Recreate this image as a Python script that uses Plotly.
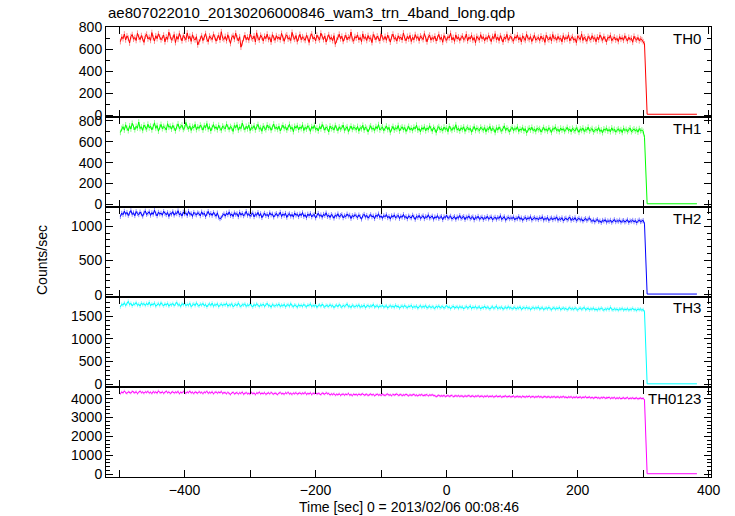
import numpy as np
import plotly.graph_objects as go

# ---------------- data ----------------
title_text = "ae807022010_20130206000846_wam3_trn_4band_long.qdp"
panel_names = ["TH0", "TH1", "TH2", "TH3", "TH0123"]
line_colors = ["#ff0000", "#00ff00", "#0000ff", "#00ffff", "#ff00ff"]
error_colors = ["rgba(255,0,0,0.45)", "rgba(0,255,0,0.45)", "rgba(0,0,255,0.45)",
                "rgba(0,255,255,0.45)", "rgba(255,0,255,0.45)"]

# active part: 2-s bins starting at -498 s; afterwards the detector is off
bin_start = -498
bin_width = 2
tail_time = [306, 382]

# typical 1-sigma error of one bin (counts/sec) for each band
band_errors = [26, 27, 34, 41, 65]

th0 = [672, 715, 698, 741, 687, 724, 703, 659, 718, 736, 694, 709, 682, 748, 713, 690, 727, 701, 665, 722,
       739, 696, 711, 683, 754, 708, 677, 725, 699, 743, 716, 688, 706, 731, 670, 714, 692, 758, 721, 685,
       702, 737, 663, 719, 693, 746, 710, 679, 728, 705, 689, 751, 697, 720, 674, 734, 700, 687, 717, 642,
       668, 699, 726, 681, 712, 745, 694, 671, 723, 707, 690, 738, 715, 676, 704, 729, 686, 762, 703, 692,
       719, 680, 734, 698, 655, 711, 727, 693, 749, 706, 678, 716, 621, 660, 701, 732, 689, 713, 684, 741,
       708, 695, 724, 669, 752, 703, 686, 730, 712, 677, 721, 699, 740, 691, 710, 667, 735, 705, 684, 726,
       697, 714, 688, 747, 702, 675, 719, 733, 694, 708, 681, 756, 711, 693, 727, 672, 704, 738, 689, 716,
       700, 683, 729, 706, 664, 720, 743, 696, 713, 678, 731, 702, 687, 749, 715, 690, 724, 668, 707, 735,
       693, 711, 680, 726, 648, 685, 712, 739, 697, 721, 674, 705, 730, 688, 714, 701, 759, 692, 676, 718,
       704, 733, 687, 710, 671, 742, 699, 716, 682, 728, 695, 707, 663, 737, 712, 689, 723, 700, 678, 744,
       706, 691, 719, 684, 732, 702, 667, 715, 740, 694, 709, 676, 725, 698, 713, 686, 751, 703, 680, 720,
       695, 729, 673, 711, 688, 736, 701, 717, 679, 724, 707, 690, 745, 698, 670, 714, 731, 685, 709, 693,
       722, 677, 704, 738, 692, 712, 666, 727, 699, 683, 718, 705, 748, 687, 710, 674, 733, 696, 715, 681,
       707, 724, 689, 700, 741, 678, 713, 695, 730, 684, 709, 661, 720, 702, 686, 735, 697, 716, 679, 711,
       693, 728, 705, 672, 719, 699, 744, 688, 712, 680, 726, 701, 667, 714, 695, 738, 684, 706, 721, 690,
       676, 717, 702, 733, 687, 710, 669, 725, 696, 683, 740, 704, 691, 718, 673, 707, 729, 685, 699, 712,
       681, 723, 694, 708, 665, 731, 700, 688, 716, 677, 737, 698, 710, 684, 720, 692, 705, 670, 727, 689,
       711, 696, 734, 679, 703, 718, 685, 699, 662, 724, 707, 690, 742, 682, 713, 697, 675, 720, 701, 687,
       726, 694, 709, 671, 715, 688, 733, 700, 683, 719, 696, 668, 711, 704, 729, 680, 698, 714, 686, 702,
       673, 717, 693, 708, 684, 725, 699, 677, 712, 690, 703, 666, 721, 695, 686, 710, 679, 698, 689, 671,
       650]
th0_tail = [10, 10]

th1 = [690, 728, 745, 712, 763, 731, 706, 754, 722, 778, 740, 715, 749, 731, 790, 727, 744, 709, 761, 737,
       720, 769, 733, 751, 714, 745, 782, 729, 756, 702, 741, 767, 725, 748, 736, 713, 774, 739, 750, 721,
       758, 731, 705, 746, 772, 726, 743, 760, 718, 735, 786, 740, 722, 753, 709, 747, 733, 768, 716, 744,
       728, 761, 739, 712, 756, 734, 775, 720, 748, 703, 738, 765, 727, 744, 715, 759, 730, 710, 752, 737,
       723, 770, 741, 718, 747, 732, 699, 757, 735, 764, 711, 743, 726, 780, 738, 716, 749, 724, 762, 707,
       740, 729, 755, 713, 744, 767, 721, 736, 701, 753, 731, 716, 762, 734, 747, 710, 739, 771, 725, 742,
       719, 750, 704, 737, 760, 728, 745, 712, 733, 768, 722, 740, 697, 749, 731, 756, 714, 742, 726, 763,
       708, 739, 721, 754, 735, 700, 746, 727, 758, 716, 732, 704, 747, 723, 766, 737, 711, 743, 729, 694,
       752, 725, 738, 712, 757, 731, 706, 744, 720, 735, 761, 709, 730, 745, 698, 727, 751, 718, 740, 733,
       715, 748, 702, 736, 724, 759, 711, 742, 728, 695, 737, 754, 719, 733, 708, 746, 725, 765, 713, 731,
       743, 706, 729, 752, 717, 739, 690, 726, 748, 712, 735, 721, 757, 703, 730, 744, 716, 738, 699, 727,
       749, 714, 732, 708, 741, 723, 760, 711, 728, 695, 736, 719, 745, 705, 733, 716, 754, 726, 701, 739,
       722, 688, 731, 746, 713, 727, 706, 742, 718, 734, 697, 750, 725, 709, 738, 720, 764, 712, 729, 703,
       735, 717, 744, 700, 726, 739, 714, 731, 692, 721, 747, 708, 733, 719, 705, 741, 724, 710, 737, 696,
       728, 715, 748, 706, 730, 722, 689, 736, 712, 743, 718, 701, 727, 753, 709, 732, 716, 694, 724, 740,
       707, 729, 718, 745, 699, 723, 711, 737, 704, 726, 684, 719, 733, 712, 740, 706, 722, 698, 731, 715,
       727, 693, 716, 738, 709, 724, 701, 735, 714, 690, 729, 719, 743, 705, 721, 697, 732, 711, 726, 700,
       718, 739, 706, 723, 695, 730, 713, 702, 736, 717, 691, 725, 709, 733, 698, 720, 712, 741, 703, 716,
       728, 694, 711, 722, 705, 737, 699, 715, 687, 724, 710, 731, 702, 719, 696, 734, 708, 721, 693, 713,
       725, 701, 717, 689, 730, 707, 720, 698, 714, 733, 696, 711, 724, 703, 718, 692, 727, 705, 713, 699,
       640]
th1_tail = [5, 5]

th2 = [1140, 1192, 1168, 1221, 1175, 1203, 1156, 1188, 1230, 1171, 1197, 1152, 1215, 1183, 1166, 1209, 1178, 1145, 1196, 1224,
       1169, 1187, 1212, 1158, 1199, 1173, 1235, 1182, 1150, 1206, 1177, 1193, 1161, 1218, 1185, 1167, 1201, 1142, 1190, 1174,
       1214, 1160, 1196, 1181, 1227, 1165, 1189, 1148, 1208, 1179, 1195, 1155, 1220, 1172, 1186, 1143, 1204, 1176, 1163, 1198,
       1184, 1151, 1211, 1170, 1192, 1139, 1183, 1217, 1164, 1188, 1157, 1202, 1175, 1146, 1196, 1130, 1108, 1125, 1160, 1181,
       1147, 1193, 1166, 1210, 1154, 1179, 1141, 1198, 1171, 1185, 1137, 1206, 1162, 1190, 1150, 1174, 1218, 1158, 1183, 1145,
       1170, 1195, 1136, 1177, 1161, 1203, 1148, 1186, 1124, 1168, 1192, 1153, 1175, 1140, 1199, 1163, 1180, 1132, 1171, 1188,
       1149, 1166, 1205, 1142, 1178, 1157, 1190, 1128, 1169, 1184, 1145, 1173, 1133, 1194, 1160, 1176, 1138, 1181, 1155, 1200,
       1141, 1167, 1123, 1179, 1152, 1187, 1135, 1163, 1171, 1119, 1158, 1190, 1146, 1168, 1130, 1176, 1154, 1197, 1139, 1162,
       1127, 1173, 1150, 1116, 1165, 1143, 1183, 1134, 1159, 1172, 1121, 1155, 1138, 1180, 1147, 1164, 1112, 1158, 1136, 1170,
       1149, 1125, 1167, 1141, 1102, 1153, 1176, 1131, 1160, 1118, 1145, 1171, 1135, 1152, 1109, 1163, 1140, 1182, 1128, 1150,
       1115, 1157, 1137, 1170, 1122, 1146, 1104, 1155, 1133, 1166, 1120, 1141, 1161, 1111, 1148, 1130, 1173, 1124, 1143, 1106,
       1152, 1134, 1119, 1164, 1139, 1098, 1147, 1127, 1159, 1113, 1136, 1154, 1108, 1142, 1125, 1168, 1117, 1132, 1150, 1101,
       1138, 1121, 1156, 1110, 1133, 1145, 1094, 1140, 1124, 1162, 1114, 1131, 1149, 1105, 1127, 1143, 1099, 1137, 1118, 1158,
       1112, 1129, 1144, 1096, 1135, 1120, 1151, 1107, 1126, 1139, 1090, 1132, 1116, 1147, 1102, 1123, 1136, 1097, 1128, 1111,
       1146, 1104, 1125, 1138, 1093, 1119, 1134, 1100, 1130, 1113, 1155, 1098, 1121, 1141, 1087, 1117, 1133, 1106, 1126, 1110,
       1137, 1092, 1120, 1108, 1143, 1101, 1124, 1085, 1115, 1131, 1096, 1122, 1109, 1140, 1089, 1114, 1128, 1103, 1118, 1094,
       1127, 1107, 1139, 1088, 1116, 1099, 1130, 1082, 1111, 1124, 1093, 1119, 1105, 1136, 1086, 1112, 1097, 1125, 1078, 1109,
       1121, 1090, 1106, 1133, 1084, 1113, 1095, 1126, 1080, 1102, 1118, 1089, 1108, 1074, 1099, 1115, 1083, 1104, 1120, 1087,
       1070, 1094, 1061, 1085, 1101, 1066, 1079, 1052, 1088, 1072, 1096, 1058, 1081, 1067, 1090, 1055, 1076, 1098, 1063, 1083,
       1069, 1092, 1057, 1078, 1086, 1060, 1075, 1095, 1053, 1080, 1071, 1089, 1062, 1084, 1048, 1077, 1093, 1065, 1074, 1087,
       1030]
th2_tail = [8, 8]

th3 = [1700, 1762, 1741, 1795, 1730, 1768, 1825, 1749, 1783, 1722, 1770, 1756, 1801, 1737, 1764, 1719, 1789, 1752, 1775, 1733,
       1781, 1745, 1810, 1726, 1766, 1748, 1792, 1713, 1759, 1777, 1731, 1797, 1754, 1722, 1771, 1740, 1786, 1716, 1760, 1743,
       1779, 1728, 1763, 1805, 1738, 1756, 1711, 1774, 1747, 1790, 1725, 1761, 1735, 1784, 1707, 1753, 1770, 1729, 1794, 1744,
       1718, 1766, 1739, 1781, 1724, 1758, 1700, 1749, 1772, 1731, 1787, 1714, 1756, 1737, 1776, 1705, 1745, 1768, 1727, 1760,
       1742, 1783, 1716, 1751, 1734, 1774, 1703, 1747, 1762, 1725, 1790, 1733, 1709, 1755, 1741, 1771, 1712, 1748, 1729, 1767,
       1736, 1698, 1757, 1721, 1773, 1740, 1706, 1752, 1730, 1765, 1711, 1745, 1784, 1723, 1739, 1694, 1758, 1734, 1717, 1750,
       1727, 1769, 1708, 1743, 1722, 1761, 1699, 1738, 1755, 1714, 1778, 1726, 1704, 1747, 1732, 1691, 1753, 1719, 1741, 1710,
       1760, 1724, 1701, 1744, 1731, 1770, 1707, 1737, 1716, 1752, 1689, 1733, 1749, 1712, 1764, 1720, 1697, 1740, 1728, 1708,
       1754, 1715, 1736, 1684, 1726, 1744, 1703, 1758, 1721, 1693, 1739, 1711, 1730, 1772, 1705, 1724, 1686, 1743, 1718, 1700,
       1735, 1710, 1751, 1690, 1723, 1706, 1746, 1681, 1719, 1738, 1698, 1727, 1714, 1760, 1695, 1717, 1732, 1687, 1725, 1709,
       1741, 1692, 1716, 1730, 1678, 1712, 1733, 1699, 1722, 1688, 1745, 1704, 1720, 1674, 1711, 1728, 1693, 1737, 1701, 1685,
       1719, 1707, 1740, 1679, 1713, 1696, 1725, 1670, 1708, 1731, 1689, 1715, 1697, 1734, 1676, 1703, 1721, 1683, 1710, 1694,
       1666, 1718, 1690, 1727, 1680, 1702, 1714, 1672, 1698, 1736, 1684, 1706, 1661, 1700, 1722, 1677, 1695, 1709, 1668, 1712,
       1688, 1704, 1658, 1697, 1716, 1675, 1691, 1726, 1663, 1701, 1682, 1713, 1669, 1693, 1705, 1655, 1696, 1679, 1719, 1671,
       1699, 1685, 1652, 1694, 1708, 1667, 1687, 1722, 1660, 1689, 1676, 1702, 1649, 1683, 1698, 1664, 1711, 1673, 1690, 1657,
       1681, 1695, 1653, 1686, 1670, 1706, 1647, 1678, 1692, 1661, 1700, 1665, 1684, 1644, 1677, 1693, 1659, 1688, 1671, 1703,
       1650, 1675, 1689, 1643, 1668, 1682, 1656, 1697, 1662, 1639, 1674, 1685, 1648, 1679, 1660, 1694, 1641, 1666, 1680, 1654,
       1672, 1636, 1663, 1687, 1651, 1669, 1645, 1683, 1658, 1632, 1667, 1678, 1646, 1661, 1692, 1640, 1657, 1673, 1634, 1664,
       1649, 1676, 1638, 1655, 1629, 1668, 1644, 1681, 1652, 1627, 1660, 1642, 1671, 1637, 1699, 1647, 1633, 1662, 1641, 1656,
       1625, 1659, 1645, 1670, 1631, 1653, 1639, 1665, 1628, 1650, 1643, 1674, 1635, 1648, 1622, 1658, 1640, 1654, 1630, 1646,
       1590]
th3_tail = [10, 10]

th0123 = [4250, 4352, 4298, 4405, 4317, 4274, 4361, 4330, 4289, 4388, 4342, 4305, 4370, 4262, 4334, 4396, 4311, 4347, 4280, 4359,
          4323, 4384, 4294, 4341, 4268, 4372, 4315, 4349, 4287, 4410, 4326, 4301, 4363, 4277, 4338, 4392, 4309, 4355, 4271, 4331,
          4366, 4292, 4344, 4318, 4381, 4259, 4336, 4303, 4376, 4328, 4284, 4350, 4312, 4399, 4296, 4340, 4266, 4357, 4321, 4285,
          4373, 4306, 4335, 4263, 4348, 4319, 4387, 4281, 4332, 4297, 4364, 4253, 4325, 4356, 4291, 4343, 4310, 4378, 4273, 4316,
          4309, 4260, 4330, 4272, 4216, 4297, 4338, 4252, 4284, 4321, 4240, 4307, 4269, 4353, 4230, 4290, 4315, 4258, 4277, 4235,
          4323, 4265, 4294, 4211, 4303, 4278, 4345, 4246, 4288, 4263, 4316, 4226, 4283, 4308, 4249, 4332, 4270, 4239, 4299, 4256,
          4214, 4292, 4324, 4253, 4274, 4231, 4312, 4267, 4337, 4245, 4281, 4220, 4296, 4259, 4317, 4237, 4276, 4305, 4242, 4290,
          4262, 4328, 4225, 4271, 4248, 4309, 4208, 4285, 4264, 4322, 4238, 4279, 4254, 4206, 4298, 4267, 4233, 4314, 4257, 4275,
          4188, 4249, 4211, 4266, 4177, 4228, 4203, 4257, 4170, 4220, 4242, 4187, 4233, 4208, 4279, 4182, 4215, 4161, 4237, 4201,
          4224, 4175, 4246, 4196, 4218, 4257, 4179, 4210, 4231, 4165, 4205, 4242, 4189, 4221, 4157, 4213, 4235, 4184, 4206, 4173,
          4229, 4192, 4168, 4216, 4239, 4181, 4203, 4154, 4225, 4187, 4209, 4248, 4169, 4195, 4220, 4160, 4200, 4178, 4232, 4186,
          4151, 4207, 4174, 4193, 4226, 4163, 4190, 4145, 4201, 4180, 4217, 4158, 4185, 4171, 4211, 4142, 4194, 4176, 4204, 4166,
          4158, 4105, 4143, 4179, 4126, 4152, 4132, 4168, 4109, 4147, 4162, 4118, 4140, 4175, 4101, 4137, 4155, 4123, 4159, 4114,
          4145, 4130, 4098, 4151, 4117, 4136, 4165, 4107, 4129, 4148, 4092, 4134, 4120, 4157, 4103, 4125, 4141, 4087, 4131, 4111,
          4149, 4096, 4126, 4113, 4138, 4082, 4121, 4144, 4100, 4119, 4135, 4078, 4114, 4106, 4142, 4089, 4116, 4128, 4084, 4110,
          4132, 4075, 4104, 4122, 4090, 4111, 4069, 4127, 4097, 4081, 4118, 4093, 4136, 4072, 4101, 4112, 4065, 4099, 4086, 4124,
          4079, 4106, 4060, 4094, 4115, 4071, 4088, 4103, 4054, 4096, 4077, 4109, 4063, 4085, 4100, 4051, 4092, 4074, 4113, 4067,
          4083, 4046, 4090, 4070, 4098, 4041, 4080, 4058, 4095, 4049, 4073, 4086, 4037, 4076, 4062, 4103, 4044, 4068, 4081, 4033,
          4066, 4020, 4057, 4077, 4029, 4052, 4010, 4061, 4040, 4075, 4018, 4048, 4035, 4068, 4005, 4043, 4026, 4060, 3999, 4038,
          4013, 4051, 3992, 4032, 4046, 4001, 4024, 4057, 3988, 4027, 4009, 4041, 3995, 4019, 4035, 3982, 4015, 4030, 3997, 4022,
          3920]
th0123_tail = [30, 30]

series = [(th0, th0_tail), (th1, th1_tail), (th2, th2_tail),
          (th3, th3_tail), (th0123, th0123_tail)]

# ---------------- layout constants ----------------
W, H = 735, 516
ML, MR, MT, MB = 106, 24, 27, 39
y_ranges = [[-15, 805], [-26, 838], [-35, 1281], [-60, 1920], [-143, 4614]]
y_dticks = [200, 200, 500, 500, 1000]
y_minor = [100, 100, 100, 100, 200]
x_range = [-520, 403.5]

FONT = "Liberation Sans, Arial, Helvetica, sans-serif"

fig = go.Figure()
n = len(series)
for k, (vals, tail) in enumerate(series):
    t = list(np.arange(bin_start, bin_start + bin_width * len(vals), bin_width)) + tail_time
    v = list(vals) + list(tail)
    err = [band_errors[k]] * len(vals) + [0] * len(tail)
    xa = "x" if k == 0 else f"x{k+1}"
    ya = "y" if k == 0 else f"y{k+1}"
    fig.add_trace(go.Scatter(x=t, y=v, mode="lines", xaxis=xa, yaxis=ya,
                             line=dict(color=line_colors[k], width=1),
                             error_y=dict(type="data", array=err, visible=True,
                                          color=error_colors[k], thickness=1, width=0),
                             showlegend=False, hoverinfo="skip"))

axis_common = dict(showgrid=False, zeroline=False, showline=True, linecolor="black",
                   linewidth=1, mirror="ticks", ticks="inside", ticklen=7,
                   tickcolor="black", tickwidth=1,
                   tickfont=dict(family=FONT, size=14, color="black"))

layout = dict(width=W, height=H, margin=dict(l=ML, r=MR, t=MT, b=MB),
              paper_bgcolor="white", plot_bgcolor="white",
              font=dict(family=FONT, size=14, color="black"), showlegend=False)

for k in range(n):
    top = 1 - k / n
    bot = 1 - (k + 1) / n
    xkey = "xaxis" if k == 0 else f"xaxis{k+1}"
    ykey = "yaxis" if k == 0 else f"yaxis{k+1}"
    ya = "y" if k == 0 else f"y{k+1}"
    xa = "x" if k == 0 else f"x{k+1}"
    xa_cfg = dict(axis_common, range=x_range, dtick=200, tick0=0, anchor=ya,
                  domain=[0, 1], showticklabels=(k == n - 1),
                  minor=dict(dtick=100, ticklen=7, tickcolor="black", ticks="inside"))
    if k > 0:
        xa_cfg["matches"] = "x"
    layout[xkey] = xa_cfg
    layout[ykey] = dict(axis_common, range=y_ranges[k], dtick=y_dticks[k], tick0=0,
                        anchor=xa, domain=[bot, top],
                        minor=dict(dtick=y_minor[k], ticklen=4, tickcolor="black",
                                   ticks="inside"))

fig.update_layout(**layout)

plot_w = W - ML - MR
plot_h = H - MT - MB

# title
fig.add_annotation(text=title_text, xref="paper", yref="paper",
                   x=0, y=1 + 4 / plot_h, xanchor="left", yanchor="bottom",
                   showarrow=False, font=dict(family=FONT, size=15, color="black"))

# panel labels
for k in range(n):
    top = 1 - k / n
    fig.add_annotation(text=panel_names[k], xref="paper", yref="paper",
                       x=1 - 8 / plot_w, y=top - 11 / plot_h, xanchor="right",
                       yanchor="middle", showarrow=False,
                       font=dict(family=FONT, size=15, color="black"))

# axis titles
fig.add_annotation(text="Counts/sec", xref="paper", yref="paper",
                   x=-(ML - 42) / plot_w, y=(H - MB - 260) / plot_h,
                   textangle=-90, xanchor="center", yanchor="middle",
                   showarrow=False, font=dict(family=FONT, size=14, color="black"))
fig.add_annotation(text="Time [sec] 0 = 2013/02/06 00:08:46", xref="paper", yref="paper",
                   x=0.5, y=-(507 - (H - MB)) / plot_h, xanchor="center", yanchor="middle",
                   showarrow=False, font=dict(family=FONT, size=14, color="black"))

# remove the default page margin so the figure sits at the window's top-left corner
fig.write_html("out.html", config={"displayModeBar": False},
               post_script="document.body.style.margin='0px';")
